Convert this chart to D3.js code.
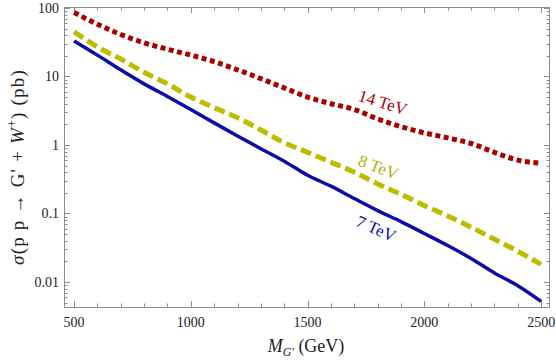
<!DOCTYPE html>
<html>
<head>
<meta charset="utf-8">
<script src="https://cdn.jsdelivr.net/npm/d3@7"></script>
<style>
  body { margin: 0; background: #fff; }
  svg { display: block; }
  text { font-family: "Liberation Serif", "DejaVu Serif", serif; }
</style>
</head>
<body>
<svg id="chart"></svg>
<script>
// masses (GeV)
const masses = [500, 600, 700, 800, 900, 1000, 1100, 1200, 1300, 1400, 1500,
  1600, 1700, 1800, 1900, 2000, 2100, 2200, 2300, 2400, 2500];

// cross sections (pb)
const xs14 = [86, 58, 41, 31, 25, 20.5, 16.5, 12.5, 9.3, 6.8, 5.0,
  4.0, 3.3, 2.4, 1.85, 1.5, 1.27, 1.05, 0.78, 0.6, 0.54];
const xs8 = [45, 27, 18, 11.5, 7.8, 5.0, 3.5, 2.5, 1.65, 1.08, 0.78,
  0.56, 0.40, 0.27, 0.19, 0.13, 0.092, 0.063, 0.042, 0.028, 0.018];
const xs7 = [33, 20.5, 12.5, 7.8, 5.1, 3.3, 2.1, 1.35, 0.88, 0.58, 0.36,
  0.25, 0.165, 0.11, 0.076, 0.051, 0.034, 0.022, 0.0135, 0.0088, 0.0052];

const xTicks = [500, 1000, 1500, 2000, 2500];
const yTicks = [0.01, 0.1, 1, 10, 100];
const yTickLabels = ["0.01", "0.1", "1", "10", "100"];

const W = 556, H = 362;
const margin = {top: 7, right: 6, bottom: 55, left: 64};

const svg = d3.select("#chart")
  .attr("width", W)
  .attr("height", H);

const x = d3.scaleLinear()
  .domain([457, 2538])
  .range([margin.left, W - margin.right]);

const y = d3.scaleLog()
  .domain([0.0043, 103.4])
  .range([H - margin.bottom, margin.top]);

const frameCol = "#8c8c8c";

// minor ticks
const xMinor = d3.range(500, 2501, 100);
const yMinor = [];
[0.001, 0.01, 0.1, 1, 10].forEach(d => {
  for (let k = 2; k <= 9; k++) {
    const v = d * k;
    if (v > y.domain()[0] && v < y.domain()[1]) yMinor.push(v);
  }
});

const ticks = svg.append("g").attr("stroke", frameCol).attr("stroke-width", 1);
const x0 = margin.left, x1 = W - margin.right;
const y0 = H - margin.bottom, y1 = margin.top;

xMinor.forEach(d => {
  const big = xTicks.includes(d);
  const len = big ? 6 : 3.5;
  const px = Math.round(x(d)) + 0.5;
  ticks.append("line").attr("x1", px).attr("x2", px).attr("y1", y0).attr("y2", y0 - len);
  ticks.append("line").attr("x1", px).attr("x2", px).attr("y1", y1).attr("y2", y1 + len);
});
yTicks.concat(yMinor).forEach(d => {
  const big = yTicks.includes(d);
  const len = big ? 6 : 3.5;
  const py = Math.round(y(d)) + 0.5;
  ticks.append("line").attr("x1", x0).attr("x2", x0 + len).attr("y1", py).attr("y2", py);
  ticks.append("line").attr("x1", x1).attr("x2", x1 - len).attr("y1", py).attr("y2", py);
});

// frame
svg.append("rect")
  .attr("x", x0 + 0.5).attr("y", y1 + 0.5)
  .attr("width", x1 - x0 - 1).attr("height", y0 - y1)
  .attr("fill", "none")
  .attr("stroke", frameCol)
  .attr("stroke-width", 1);

// tick labels
svg.append("g").selectAll("text")
  .data(xTicks)
  .join("text")
  .attr("x", d => x(d))
  .attr("y", y0 + 20)
  .attr("text-anchor", "middle")
  .attr("font-size", 14)
  .attr("fill", "#222")
  .text(d => d);

svg.append("g").selectAll("text")
  .data(yTicks)
  .join("text")
  .attr("x", x0 - 5)
  .attr("y", d => y(d) + 5)
  .attr("text-anchor", "end")
  .attr("font-size", 14)
  .attr("fill", "#222")
  .text((d, i) => yTickLabels[i]);

// curves
const clipId = "plotclip";
svg.append("clipPath").attr("id", clipId)
  .append("rect").attr("x", x0).attr("y", y1).attr("width", x1 - x0).attr("height", y0 - y1);

const line = d3.line()
  .x(d => x(d[0]))
  .y(d => y(d[1]))
  .curve(d3.curveMonotoneX);

const series = [
  {vals: xs7, color: "#0c0ca8", width: 3.5, dash: null},
  {vals: xs8, color: "#bdbd00", width: 5, dash: "11,5"},
  {vals: xs14, color: "#a80000", width: 5, dash: "5,3.5"}
];

const g = svg.append("g").attr("clip-path", `url(#${clipId})`);
series.forEach(s => {
  g.append("path")
    .datum(masses.map((m, i) => [m, s.vals[i]]))
    .attr("d", line)
    .attr("fill", "none")
    .attr("stroke", s.color)
    .attr("stroke-width", s.width)
    .attr("stroke-dasharray", s.dash)
    .attr("stroke-linejoin", "round");
});

// curve labels
const labels = [
  {t: "14 TeV", m: 1820, v: 2.3, dy: -16, rot: 17, color: "#a80000"},
  {t: "8 TeV", m: 1800, v: 0.27, dy: -15, rot: 21, color: "#b0b000"},
  {t: "7 TeV", m: 1790, v: 0.115, dy: 21, rot: 24, color: "#0c0ca8"}
];
svg.append("g").selectAll("text")
  .data(labels)
  .join("text")
  .attr("transform", d => `translate(${x(d.m)},${y(d.v) + d.dy}) rotate(${d.rot})`)
  .attr("text-anchor", "middle")
  .attr("dominant-baseline", "middle")
  .attr("font-size", 17)
  .attr("fill", d => d.color)
  .text(d => d.t);

// axis titles
const xt = svg.append("text")
  .attr("x", 306)
  .attr("y", 352)
  .attr("text-anchor", "middle")
  .attr("font-size", 18)
  .attr("fill", "#222");
xt.append("tspan").attr("font-style", "italic").text("M");
xt.append("tspan").attr("font-style", "italic").attr("font-size", 12).attr("dy", 4).text("G'");
xt.append("tspan").attr("dy", -4).text(" (GeV)");

const yt = svg.append("text")
  .attr("transform", `translate(24,${(y0 + y1) / 2 + 10}) rotate(-90)`)
  .attr("text-anchor", "middle")
  .attr("font-size", 19)
  .attr("letter-spacing", 1.2)
  .attr("fill", "#222");
yt.append("tspan").attr("font-style", "italic").text("σ");
yt.append("tspan").text("(p p → G' + ");
yt.append("tspan").attr("font-style", "italic").text("W");
yt.append("tspan").attr("font-size", 12).attr("dy", -8).text("+");
yt.append("tspan").attr("dy", 8).text(") (pb)");
</script>
</body>
</html>
